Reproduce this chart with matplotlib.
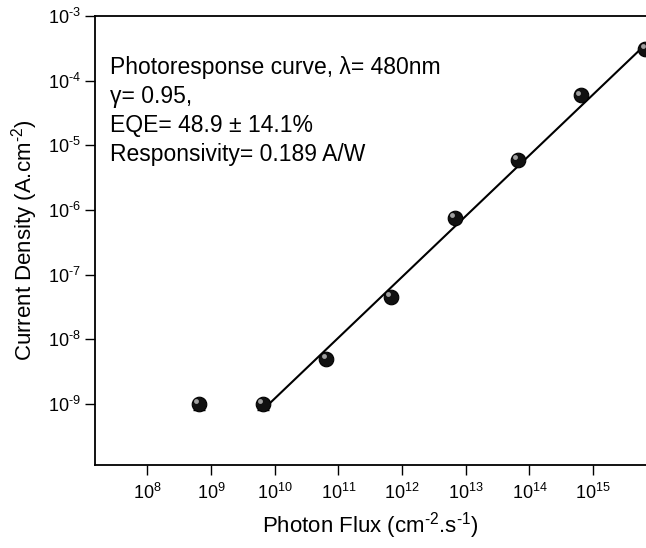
import matplotlib
matplotlib.use("Agg")
import matplotlib.pyplot as plt
import matplotlib.transforms as mtransforms

plt.rcParams['font.family'] = ['Liberation Sans', 'DejaVu Sans']
plt.rcParams['mathtext.fontset'] = 'custom'
plt.rcParams['mathtext.rm'] = 'Liberation Sans'
plt.rcParams['mathtext.it'] = 'Liberation Sans'

photon_flux = [6.4e8, 6.6e9, 6.5e10, 6.7e11, 6.7e12, 6.6e13, 6.5e14, 6.6e15]
current_density = [1.0e-9, 1.0e-9, 5.0e-9, 4.6e-8, 7.6e-7, 6.0e-6, 5.9e-5, 3.1e-4]
err_low = [0.18e-9, 0.2e-9, 0, 0, 0, 0, 0, 0]
err_high = [0, 0, 0, 0, 0, 0, 0, 0]

fit_x = [7.0e9, 6.6e15]
fit_y = [8.7e-10, 3.6e-4]

H = '\u2010'
x_ticks = [1e8, 1e9, 1e10, 1e11, 1e12, 1e13, 1e14, 1e15]
x_ticklabels = ['$10^{8}$', '$10^{9}$', '$10^{10}$', '$10^{11}$', '$10^{12}$', '$10^{13}$', '$10^{14}$', '$10^{15}$']
y_ticks = [1e-9, 1e-8, 1e-7, 1e-6, 1e-5, 1e-4, 1e-3]
y_ticklabels = ['$10^{' + H + '%d}$' % k for k in [9, 8, 7, 6, 5, 4, 3]]

annotation = ["Photoresponse curve, λ= 480nm", "γ= 0.95,", "EQE= 48.9 ± 14.1%", "Responsivity= 0.189 A/W"]

fig = plt.figure(figsize=(6.46, 5.48), dpi=100)
ax = fig.add_axes([0.147, 0.1515, 0.853, 0.8195])
ax.set_xscale('log')
ax.set_yscale('log')
ax.set_xlim(10**7.18, 10**15.83)
ax.set_ylim(10**-9.94, 1e-3)

ax.plot(fit_x, fit_y, color='black', lw=1.5, zorder=2)
ax.errorbar(photon_flux, current_density, yerr=[err_low, err_high], fmt='none',
            ecolor='black', elinewidth=1, capsize=4, capthick=1, zorder=3)
ax.plot(photon_flux, current_density, 'o', ms=10.5, color='#111111', mec='black', mew=0.8,
        zorder=4, clip_on=False)
hl = mtransforms.offset_copy(ax.transData, fig=fig, x=-2, y=2, units='points')
ax.plot(photon_flux, current_density, 'o', ms=3.5, color='#a0a0a0', mec='none',
        transform=hl, zorder=5, clip_on=False)

ax.set_xticks(x_ticks)
ax.set_xticklabels(x_ticklabels)
ax.set_yticks(y_ticks)
ax.set_yticklabels(y_ticklabels)
ax.minorticks_off()
ax.tick_params(axis='both', direction='out', length=7, width=1, labelsize=13, pad=3)
ax.tick_params(axis='x', pad=6)
ax.spines['right'].set_visible(False)
for s in ['left', 'bottom', 'top']:
    ax.spines[s].set_linewidth(1.3)

ax.set_xlabel('Photon Flux (cm$^{' + H + '2}$.s$^{' + H + '1}$)', fontsize=16, labelpad=5)
ax.set_ylabel('Current Density (A.cm$^{' + H + '2}$)', fontsize=16, labelpad=6)

ax.text(0.027, 0.91, "\n".join(annotation), transform=ax.transAxes, fontsize=16.5,
        va='top', ha='left', linespacing=1.33)

fig.savefig('out.png', dpi=100)
